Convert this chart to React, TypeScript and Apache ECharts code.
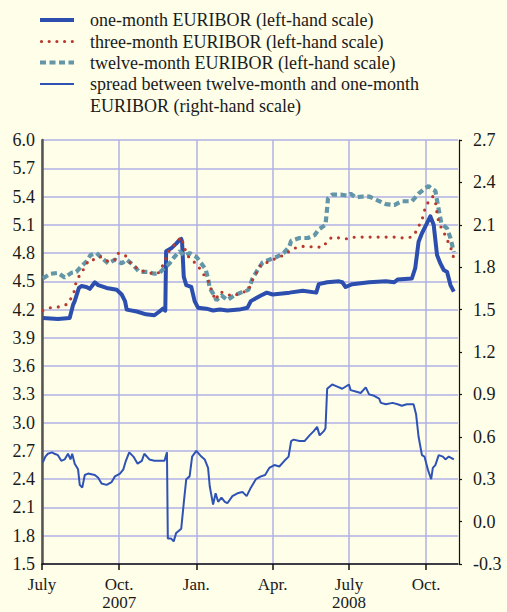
import React, { useEffect, useRef } from "react";
import * as echarts from "echarts";

// x-axis: quarter starts and their labels
const quarterStarts = ["2007-07-01", "2007-10-01", "2008-01-01", "2008-04-01", "2008-07-01", "2008-10-01"];
const quarterLabels = ["July", "Oct.\n2007", "Jan.", "Apr.", "July\n2008", "Oct."];
const axisStart = "2007-07-01";
const axisEnd = "2008-11-08";

// one-month EURIBOR (left-hand scale)
const oneMonth: [string, number][] = [
  ["2007-07-02", 4.11], ["2007-07-20", 4.10], ["2007-08-03", 4.11], ["2007-08-07", 4.25], ["2007-08-09", 4.29],
  ["2007-08-14", 4.43], ["2007-08-17", 4.45], ["2007-08-23", 4.44], ["2007-08-27", 4.42], ["2007-09-02", 4.49],
  ["2007-09-06", 4.46], ["2007-09-16", 4.43], ["2007-09-28", 4.41], ["2007-10-04", 4.36], ["2007-10-08", 4.29],
  ["2007-10-10", 4.20], ["2007-10-22", 4.18], ["2007-11-02", 4.15], ["2007-11-12", 4.14], ["2007-11-18", 4.18],
  ["2007-11-22", 4.21], ["2007-11-25", 4.19], ["2007-11-26", 4.82], ["2007-12-02", 4.85], ["2007-12-08", 4.90],
  ["2007-12-12", 4.94], ["2007-12-14", 4.95], ["2007-12-15", 4.92], ["2007-12-17", 4.55], ["2007-12-20", 4.46],
  ["2007-12-26", 4.44], ["2007-12-30", 4.29], ["2008-01-03", 4.22], ["2008-01-13", 4.21], ["2008-01-21", 4.19],
  ["2008-01-29", 4.20], ["2008-02-07", 4.19], ["2008-02-21", 4.20], ["2008-03-02", 4.22], ["2008-03-06", 4.29],
  ["2008-03-12", 4.32], ["2008-03-18", 4.35], ["2008-03-25", 4.38], ["2008-04-01", 4.36], ["2008-04-21", 4.38],
  ["2008-05-07", 4.40], ["2008-05-23", 4.38], ["2008-05-26", 4.47], ["2008-06-05", 4.49], ["2008-06-19", 4.50],
  ["2008-06-23", 4.49], ["2008-06-27", 4.44], ["2008-07-05", 4.47], ["2008-07-25", 4.49], ["2008-08-14", 4.50],
  ["2008-08-24", 4.49], ["2008-08-28", 4.52], ["2008-09-14", 4.53], ["2008-09-18", 4.64], ["2008-09-22", 4.92],
  ["2008-09-26", 5.01], ["2008-09-30", 5.08], ["2008-10-06", 5.19], ["2008-10-10", 5.10], ["2008-10-14", 4.78],
  ["2008-10-18", 4.69], ["2008-10-22", 4.62], ["2008-10-26", 4.60], ["2008-10-30", 4.46], ["2008-11-03", 4.39],
];

// three-month EURIBOR (left-hand scale)
const threeMonth: [string, number][] = [
  ["2007-07-02", 4.19], ["2007-07-11", 4.22], ["2007-07-22", 4.23], ["2007-08-01", 4.26], ["2007-08-08", 4.38],
  ["2007-08-10", 4.47], ["2007-08-15", 4.57], ["2007-08-19", 4.62], ["2007-08-26", 4.73], ["2007-09-04", 4.73],
  ["2007-09-09", 4.76], ["2007-09-18", 4.71], ["2007-09-26", 4.73], ["2007-09-29", 4.80], ["2007-10-08", 4.78],
  ["2007-10-13", 4.71], ["2007-10-18", 4.66], ["2007-10-29", 4.61], ["2007-11-06", 4.59], ["2007-11-16", 4.58],
  ["2007-11-21", 4.65], ["2007-11-24", 4.71], ["2007-11-28", 4.80], ["2007-12-02", 4.85], ["2007-12-08", 4.91],
  ["2007-12-14", 4.97], ["2007-12-20", 4.80], ["2007-12-25", 4.73], ["2008-01-01", 4.69], ["2008-01-07", 4.61],
  ["2008-01-13", 4.53], ["2008-01-17", 4.48], ["2008-01-19", 4.40], ["2008-01-24", 4.30], ["2008-01-29", 4.39],
  ["2008-02-06", 4.37], ["2008-02-13", 4.34], ["2008-02-23", 4.38], ["2008-03-03", 4.40], ["2008-03-07", 4.50],
  ["2008-03-10", 4.55], ["2008-03-14", 4.61], ["2008-03-18", 4.68], ["2008-03-25", 4.70], ["2008-04-01", 4.73],
  ["2008-04-10", 4.76], ["2008-04-18", 4.80], ["2008-04-24", 4.84], ["2008-05-03", 4.87], ["2008-05-14", 4.87],
  ["2008-05-23", 4.86], ["2008-06-01", 4.87], ["2008-06-05", 4.93], ["2008-06-11", 4.97], ["2008-06-30", 4.95],
  ["2008-07-08", 4.97], ["2008-08-26", 4.97], ["2008-09-04", 4.96], ["2008-09-14", 4.97], ["2008-09-20", 5.04],
  ["2008-09-24", 5.12], ["2008-09-28", 5.20], ["2008-09-30", 5.29], ["2008-10-05", 5.36], ["2008-10-09", 5.40],
  ["2008-10-12", 5.35], ["2008-10-14", 5.22], ["2008-10-16", 5.13], ["2008-10-20", 5.05], ["2008-10-25", 4.97],
  ["2008-10-28", 4.90], ["2008-11-01", 4.82], ["2008-11-03", 4.74],
];

// twelve-month EURIBOR (left-hand scale)
const twelveMonth: [string, number][] = [
  ["2007-07-02", 4.53], ["2007-07-11", 4.58], ["2007-07-20", 4.59], ["2007-07-28", 4.54], ["2007-08-05", 4.59],
  ["2007-08-11", 4.60], ["2007-08-17", 4.66], ["2007-08-23", 4.71], ["2007-08-28", 4.78], ["2007-09-04", 4.80],
  ["2007-09-10", 4.75], ["2007-09-18", 4.69], ["2007-09-26", 4.73], ["2007-10-04", 4.69], ["2007-10-10", 4.73],
  ["2007-10-18", 4.67], ["2007-10-25", 4.60], ["2007-11-04", 4.60], ["2007-11-12", 4.58], ["2007-11-18", 4.59],
  ["2007-11-24", 4.64], ["2007-11-30", 4.69], ["2007-12-06", 4.76], ["2007-12-12", 4.82], ["2007-12-18", 4.77],
  ["2007-12-24", 4.80], ["2008-01-01", 4.76], ["2008-01-07", 4.69], ["2008-01-12", 4.63], ["2008-01-15", 4.53],
  ["2008-01-17", 4.43], ["2008-01-21", 4.37], ["2008-01-25", 4.30], ["2008-01-31", 4.35], ["2008-02-07", 4.30],
  ["2008-02-15", 4.35], ["2008-02-23", 4.38], ["2008-03-03", 4.41], ["2008-03-08", 4.53], ["2008-03-14", 4.62],
  ["2008-03-20", 4.70], ["2008-03-28", 4.73], ["2008-04-06", 4.76], ["2008-04-14", 4.80], ["2008-04-21", 4.87],
  ["2008-04-23", 4.93], ["2008-05-03", 4.96], ["2008-05-13", 4.96], ["2008-05-21", 4.99], ["2008-05-26", 5.05],
  ["2008-06-03", 5.10], ["2008-06-05", 5.28], ["2008-06-06", 5.38], ["2008-06-11", 5.42], ["2008-06-21", 5.42],
  ["2008-06-29", 5.41], ["2008-07-03", 5.43], ["2008-07-09", 5.39], ["2008-07-17", 5.40], ["2008-07-25", 5.40],
  ["2008-08-04", 5.36], ["2008-08-14", 5.32], ["2008-08-24", 5.31], ["2008-09-02", 5.35], ["2008-09-14", 5.35],
  ["2008-09-22", 5.43], ["2008-09-30", 5.49], ["2008-10-04", 5.51], ["2008-10-08", 5.48], ["2008-10-12", 5.46],
  ["2008-10-15", 5.31], ["2008-10-19", 5.12], ["2008-10-26", 5.06], ["2008-10-30", 4.96], ["2008-11-03", 4.81],
];

// spread between twelve-month and one-month EURIBOR (right-hand scale)
const spread: [string, number][] = [
  ["2007-07-02", 0.42], ["2007-07-05", 0.46], ["2007-07-08", 0.48], ["2007-07-13", 0.49], ["2007-07-16", 0.48],
  ["2007-07-20", 0.47], ["2007-07-24", 0.43], ["2007-07-28", 0.44], ["2007-08-01", 0.48], ["2007-08-04", 0.44],
  ["2007-08-06", 0.48], ["2007-08-09", 0.41], ["2007-08-13", 0.37], ["2007-08-15", 0.26], ["2007-08-18", 0.24],
  ["2007-08-21", 0.33], ["2007-08-25", 0.34], ["2007-09-02", 0.33], ["2007-09-06", 0.31], ["2007-09-10", 0.27],
  ["2007-09-16", 0.26], ["2007-09-22", 0.28], ["2007-09-26", 0.32], ["2007-10-02", 0.34], ["2007-10-06", 0.37],
  ["2007-10-09", 0.43], ["2007-10-13", 0.49], ["2007-10-18", 0.46], ["2007-10-23", 0.41], ["2007-10-28", 0.43],
  ["2007-10-31", 0.48], ["2007-11-06", 0.44], ["2007-11-12", 0.43], ["2007-11-18", 0.43], ["2007-11-24", 0.43],
  ["2007-11-27", 0.49], ["2007-11-28", -0.12], ["2007-12-02", -0.12], ["2007-12-05", -0.14], ["2007-12-08", -0.08],
  ["2007-12-14", -0.05], ["2007-12-17", 0.13], ["2007-12-20", 0.30], ["2007-12-24", 0.32], ["2007-12-27", 0.46],
  ["2008-01-01", 0.50], ["2008-01-07", 0.46], ["2008-01-11", 0.44], ["2008-01-15", 0.38], ["2008-01-17", 0.25],
  ["2008-01-21", 0.12], ["2008-01-24", 0.20], ["2008-01-27", 0.14], ["2008-01-31", 0.17], ["2008-02-04", 0.14],
  ["2008-02-07", 0.13], ["2008-02-13", 0.18], ["2008-02-19", 0.20], ["2008-02-25", 0.21], ["2008-03-01", 0.18],
  ["2008-03-06", 0.24], ["2008-03-12", 0.30], ["2008-03-18", 0.32], ["2008-03-23", 0.33], ["2008-03-28", 0.38],
  ["2008-04-03", 0.40], ["2008-04-09", 0.39], ["2008-04-15", 0.43], ["2008-04-20", 0.46], ["2008-04-23", 0.57],
  ["2008-04-26", 0.58], ["2008-05-03", 0.57], ["2008-05-09", 0.57], ["2008-05-15", 0.61], ["2008-05-20", 0.64],
  ["2008-05-24", 0.67], ["2008-05-27", 0.61], ["2008-06-01", 0.64], ["2008-06-03", 0.66], ["2008-06-05", 0.94],
  ["2008-06-11", 0.97], ["2008-06-15", 0.96], ["2008-06-23", 0.94], ["2008-07-01", 0.97], ["2008-07-03", 0.93],
  ["2008-07-09", 0.92], ["2008-07-15", 0.91], ["2008-07-21", 0.95], ["2008-07-25", 0.90], ["2008-07-31", 0.89],
  ["2008-08-06", 0.87], ["2008-08-08", 0.84], ["2008-08-14", 0.83], ["2008-08-22", 0.84], ["2008-08-28", 0.83],
  ["2008-09-02", 0.82], ["2008-09-08", 0.83], ["2008-09-16", 0.83], ["2008-09-19", 0.76], ["2008-09-22", 0.60],
  ["2008-09-26", 0.47], ["2008-09-29", 0.46], ["2008-10-03", 0.37], ["2008-10-07", 0.30], ["2008-10-09", 0.38],
  ["2008-10-12", 0.40], ["2008-10-16", 0.47], ["2008-10-21", 0.46], ["2008-10-24", 0.44], ["2008-10-28", 0.46],
  ["2008-11-03", 0.44],
];

const legendNames = [
  "one-month EURIBOR (left-hand scale)",
  "three-month EURIBOR (left-hand scale)",
  "twelve-month EURIBOR (left-hand scale)",
  "spread between twelve-month and one-month\nEURIBOR (right-hand scale)",
];

const FONT = "Liberation Serif, Tinos, Times New Roman, Nimbus Roman, DejaVu Serif, serif";
const BG = "#fefee9";
const C1 = "#2c4eae";
const C3 = "#b8392d";
const C12 = "#6396a8";
const CS = "#2f52b5";
const TXT = "#1a1a1a";
const GRIDC = "#b0b0e6";

function dayOf(s: string): number {
  const [y, m, d] = s.split("-").map(Number);
  const [y0, m0, d0] = axisStart.split("-").map(Number);
  return (Date.UTC(y, m - 1, d) - Date.UTC(y0, m0 - 1, d0)) / 86400000;
}

const toXY = (arr: [string, number][]) => arr.map(([d, v]) => [dayOf(d), v]);

export default function App() {
  const ref = useRef<HTMLDivElement>(null);
  useEffect(() => {
    if (!ref.current) return;
    const chart = echarts.init(ref.current, null, { renderer: "svg" });
    const ticks = quarterStarts.map(dayOf);
    const fmt1 = (v: number) => (Math.abs(v) < 1e-9 ? 0 : v).toFixed(1);
    const legendY = [20, 41.5, 62.5, 84];
    const lx0 = 40, lx1 = 74;
    const graphics: any[] = [];
    graphics.push({ type: "line", shape: { x1: lx0, y1: legendY[0], x2: lx1, y2: legendY[0] }, style: { stroke: C1, lineWidth: 4 } });
    graphics.push({ type: "line", shape: { x1: lx0 + 1.5, y1: legendY[1], x2: lx1, y2: legendY[1] }, style: { stroke: C3, lineWidth: 3.2, lineDash: [0, 7.7], lineCap: "round" } });
    graphics.push({ type: "line", shape: { x1: lx0, y1: legendY[2], x2: lx1, y2: legendY[2] }, style: { stroke: C12, lineWidth: 4, lineDash: [6, 3.5] } });
    graphics.push({ type: "line", shape: { x1: lx0, y1: legendY[3], x2: lx1, y2: legendY[3] }, style: { stroke: CS, lineWidth: 2 } });
    legendNames.forEach((t, i) => {
      graphics.push({
        type: "text",
        left: 90,
        top: legendY[i] - 10.75,
        style: { text: t, fontSize: 18, fontFamily: FONT, fill: TXT, lineHeight: 21.5 },
      });
    });

    const lbl = { fontSize: 18, color: TXT, fontFamily: FONT };

    chart.setOption({
      animation: false,
      backgroundColor: BG,
      textStyle: { fontFamily: FONT },
      graphic: graphics,
      grid: { left: 42, right: 49, top: 140, bottom: 48, containLabel: false, outerBoundsMode: "none" },
      xAxis: {
        type: "value",
        min: 0,
        max: dayOf(axisEnd),
        axisLine: { show: true, onZero: false, lineStyle: { color: "#111", width: 1.5 } },
        axisTick: { show: true, customValues: ticks, length: 6, lineStyle: { color: "#111", width: 1.5 } },
        axisLabel: {
          ...lbl,
          fontSize: 17,
          customValues: ticks,
          margin: 12,
          lineHeight: 17.5,
          formatter: (v: number) => {
            const i = ticks.findIndex((t) => Math.abs(t - v) < 0.5);
            return i >= 0 ? quarterLabels[i] : "";
          },
        },
        splitLine: { show: true, lineStyle: { color: GRIDC, width: 1.5 } },
      },
      yAxis: [
        {
          type: "value",
          min: 1.5,
          max: 6.0,
          interval: 0.3,
          position: "left",
          axisLine: { show: true, lineStyle: { color: "#555", width: 2.5 } },
          axisTick: { show: false },
          axisLabel: { ...lbl, margin: 7, formatter: fmt1 },
          splitLine: { show: true, lineStyle: { color: GRIDC, width: 1.5 } },
        },
        {
          type: "value",
          min: -0.3,
          max: 2.7,
          interval: 0.3,
          position: "right",
          offset: 1,
          axisLine: { show: true, lineStyle: { color: "#111", width: 1.2 } },
          axisTick: { show: true, inside: false, length: 3, lineStyle: { color: "#111", width: 1.2 } },
          axisLabel: { ...lbl, margin: 14, formatter: fmt1 },
          splitLine: { show: false },
        },
      ],
      series: [
        {
          name: "one-month",
          type: "line",
          yAxisIndex: 0,
          data: toXY(oneMonth),
          showSymbol: false,
          lineStyle: { color: C1, width: 4, join: "round" },
          z: 3,
        },
        {
          name: "three-month",
          type: "line",
          yAxisIndex: 0,
          data: toXY(threeMonth),
          showSymbol: false,
          lineStyle: { color: C3, width: 3.2, type: [0, 8], cap: "round" },
          z: 4,
        },
        {
          name: "twelve-month",
          type: "line",
          yAxisIndex: 0,
          data: toXY(twelveMonth),
          showSymbol: false,
          lineStyle: { color: C12, width: 4.2, type: [6, 3.5] },
          z: 3,
        },
        {
          name: "spread",
          type: "line",
          yAxisIndex: 1,
          data: toXY(spread),
          showSymbol: false,
          lineStyle: { color: CS, width: 2 },
          z: 3,
        },
      ],
    });
    return () => chart.dispose();
  }, []);
  return (
    <div
      ref={ref}
      style={{ position: "fixed", left: 0, top: 0, width: 507, height: 612, background: BG }}
    />
  );
}
